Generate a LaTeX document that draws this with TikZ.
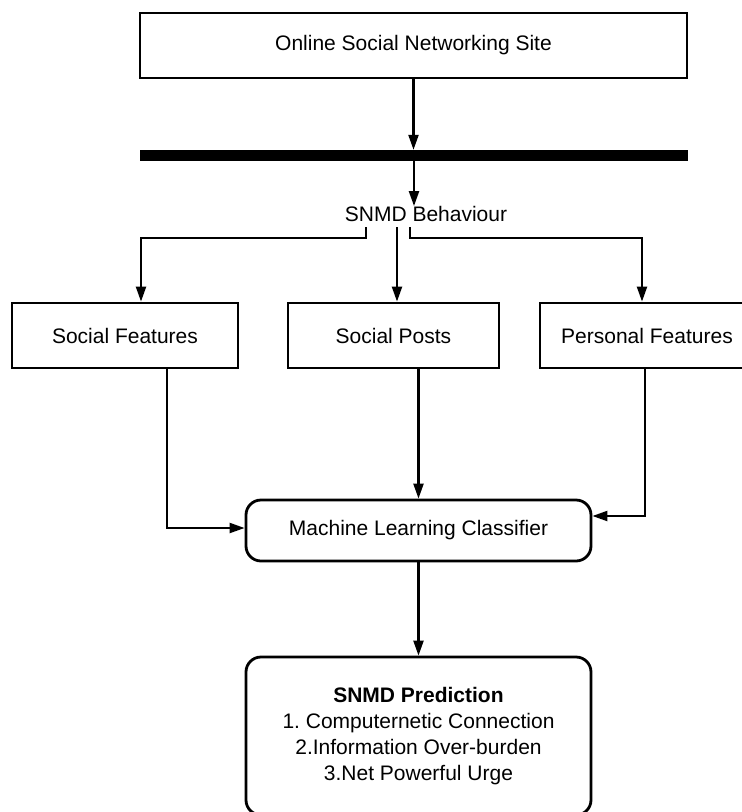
\documentclass[tikz,border=0pt]{standalone}
\usepackage{fontspec}
\setmainfont{Liberation Sans}
\usepackage{tikz}
\usetikzlibrary{arrows.meta}
\usetikzlibrary{calc}
\tikzstyle{flowbox}=[draw, line width=2.8pt, minimum height=65pt, inner sep=0pt]
\tikzstyle{roundbox}=[draw, line width=2.8pt, rounded corners=15pt, inner sep=0pt]
\tikzstyle{arr}=[line width=2.2pt, -{Triangle[length=15pt,width=10pt]}]

\begin{document}
\begin{tikzpicture}[x=1pt,y=-1pt,font=\fontsize{21}{26}\selectfont]
	\useasboundingbox (0,0) rectangle (742,812);
	% source and bus
	\node[flowbox, minimum width=547pt] (osns) at (413.5,45.5) {Online Social Networking Site};
	\node[fill=black, minimum width=548pt, minimum height=11pt, inner sep=0pt] (bar) at (414,155.5) {};
	\node[inner sep=0pt] (behav) at (426,214) {SNMD Behaviour};
	\coordinate (bl) at (366,227);
	\coordinate (bm) at (397,227);
	\coordinate (br) at (410,227);
	% features
	\node[flowbox, minimum width=226pt] (sfeat) at (125,335.5) {Social Features};
	\node[flowbox, minimum width=211pt] (sposts) at (393.5,335.5) {Social Posts};
	\node[flowbox, minimum width=214pt] (pfeat) at (647,335.5) {Personal Features};
	% classifier and output
	\node[roundbox, minimum width=345pt, minimum height=61pt] (mlc) at (418.5,530.5) {Machine Learning Classifier};
	\node[roundbox, minimum width=345pt, minimum height=158pt, align=center] (pred) at (418.5,736)
		{\textbf{SNMD Prediction}\\1.\ Computernetic Connection\\2.Information Over-burden\\3.Net Powerful Urge};
	\draw[arr] (osns.south) -- (osns.south |- bar.north);
	\draw[arr] (bar.south) -- (bar.south |- behav.north);
	\draw[arr] (bl) -- ++(0,11) -| ([xshift=16pt]sfeat.north);
	\draw[arr] (bm) -- (bm |- sposts.north);
	\draw[arr] (br) -- ++(0,11) -| ([xshift=-5pt]pfeat.north);
	\draw[arr] ([xshift=42pt]sfeat.south) |- ([yshift=2.5pt]mlc.west);
	\draw[arr] (mlc.north |- sposts.south) -- (mlc.north);
	\draw[arr] ([xshift=-2pt]pfeat.south) |- ([yshift=14.5pt]mlc.east);
	\draw[arr] (mlc.south) -- (pred.north);
\end{tikzpicture}
\end{document}
